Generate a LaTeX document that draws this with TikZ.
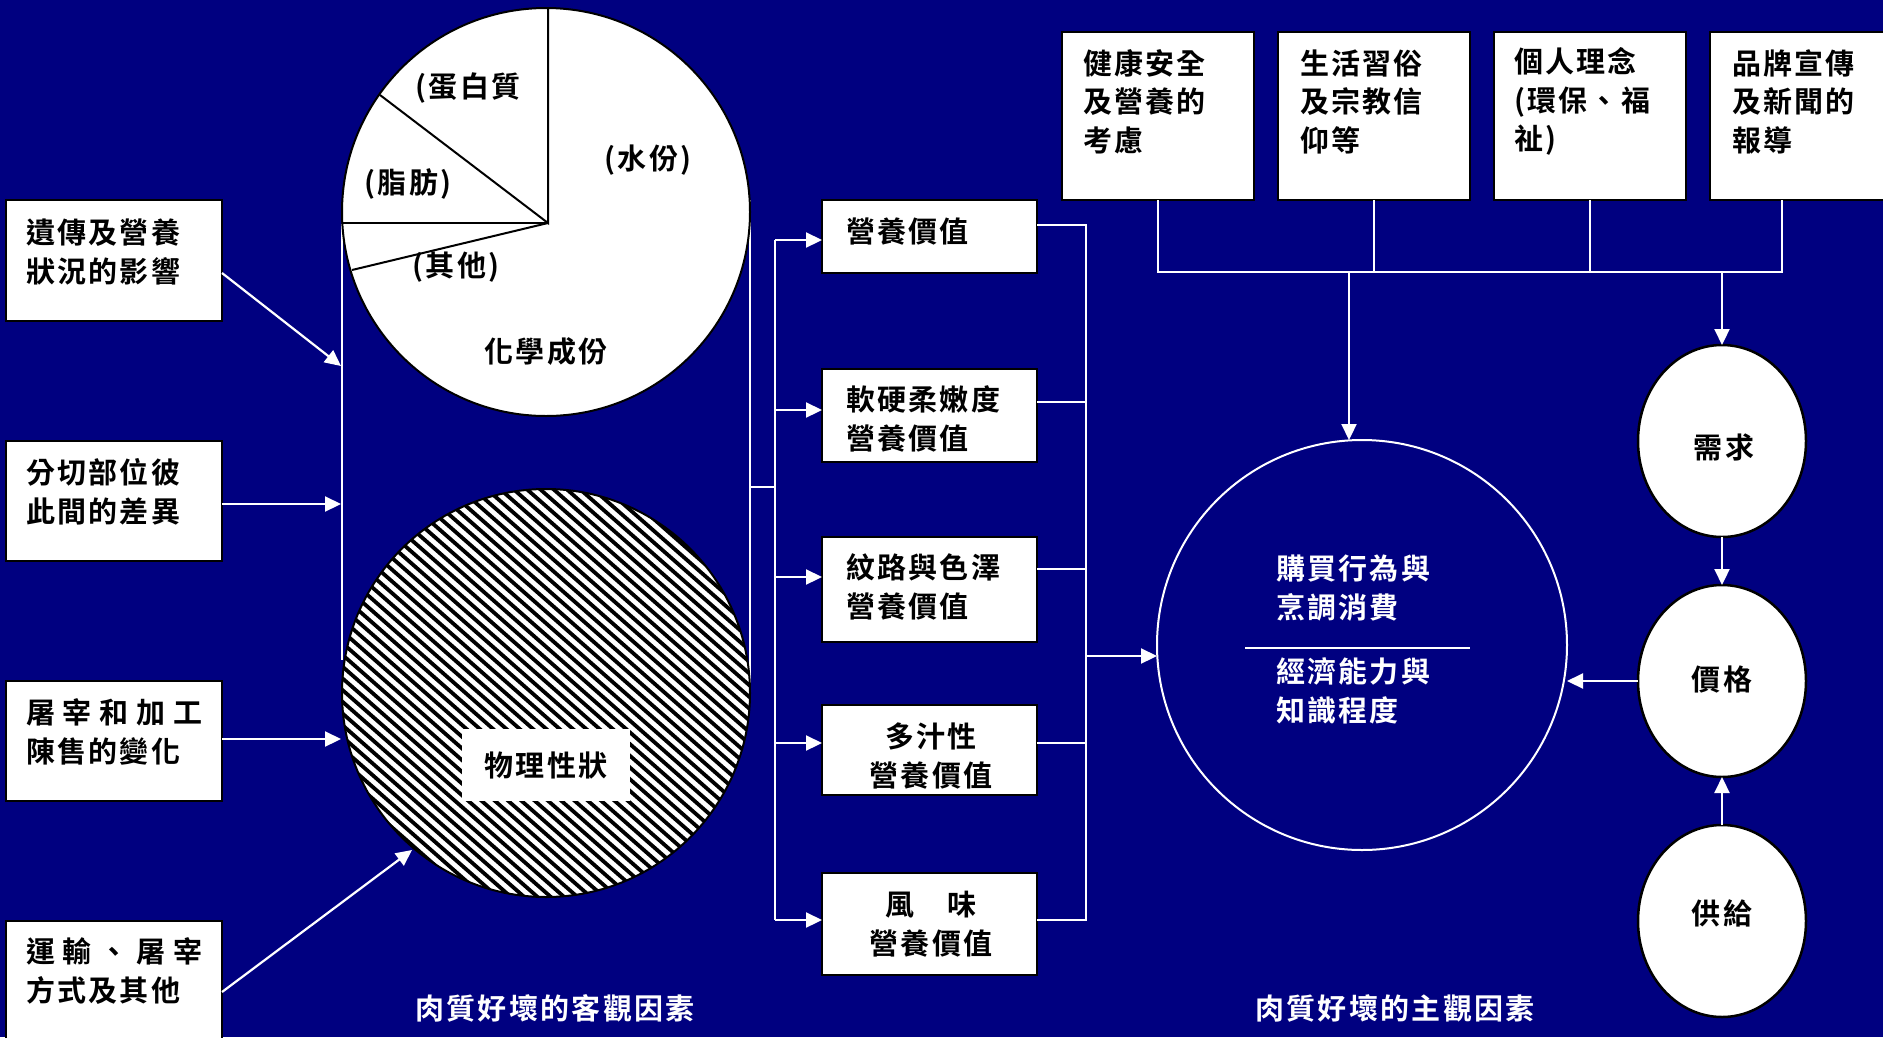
\documentclass[tikz,border=0pt]{standalone}
\usepackage{fontspec}
\newfontfamily\cjk{Noto Sans CJK TC Bold}[LetterSpace=8]
\usetikzlibrary{arrows.meta,shapes.geometric}
\definecolor{bgnavy}{RGB}{0,0,128}
\newcommand\wsp{\hspace{8pt}}
\begin{document}
\begin{tikzpicture}[x=1pt,y=-1pt,
  every node/.style={inner sep=0pt, outer sep=0pt},
  box/.style={draw=black, line width=2.5pt, fill=white, rectangle},
  txt/.style={font=\cjk\fontsize{29}{38.5}\selectfont, align=left, anchor=west, text=black},
  ctxt/.style={txt, align=center, anchor=center},
  wtxt/.style={txt, text=white},
  conn/.style={draw=white, line width=2.2pt},
  arr/.style={conn, -{Triangle[length=16pt,width=15pt]}},
  oval/.style={ellipse, draw=black, line width=2.5pt, fill=white, minimum width=168pt, minimum height=192pt},
  blk/.style={draw=black, line width=2pt}
]
\useasboundingbox (0,0) rectangle (1883,1037);
\fill[bgnavy] (0,0) rectangle (1883,1037);

% ---------- vertical connector lines around the two circles
\coordinate (vl1) at (342,224);
\coordinate (vl2) at (342,660);
\coordinate (vr1) at (750,200);
\coordinate (vr2) at (750,688);
\draw[conn] (vl1) -- (vl2);
\draw[conn] (vr1) -- (vr2);

% ---------- pie chart (chemical composition)
\fill[white] (546,212) circle[radius=204pt];
\draw[blk] (546,212) circle[radius=204pt];
\coordinate (pc) at (548,223);
\draw[blk] (548,9) -- (pc) -- (380,95);
\draw[blk] (pc) -- (343,223);
\draw[blk] (pc) -- (352,270);
\node[ctxt] (p1) at (468,88) {(蛋白質};
\node[ctxt] (p2) at (648,160) {(水份)};
\node[ctxt] (p3) at (408,184) {(脂肪)};
\node[ctxt] (p4) at (456,267) {(其他)};
\node[ctxt] (p5) at (546,352) {化學成份};

% ---------- hatched circle (physical properties)
\begin{scope}
  \clip (546,693) circle[radius=204pt];
  \fill[white] (342,489) rectangle (750,897);
  \foreach \i in {0,...,60}
    \draw[black, line width=3.8pt] ({-160+\i*13.3},470) -- ++(520,458);
\end{scope}
\draw[blk] (546,693) circle[radius=204pt];
\node[fill=white, minimum width=168pt, minimum height=72pt, font=\cjk\fontsize{29}{38.5}\selectfont] (PH) at (546,765) {物理性狀};

% ---------- left boxes
\node[box, minimum width=216pt, minimum height=121pt] (L1) at (114,260.5) {};
\node[box, minimum width=216pt, minimum height=120pt] (L2) at (114,501) {};
\node[box, minimum width=216pt, minimum height=120pt] (L3) at (114,741) {};
\node[box, minimum width=216pt, minimum height=129pt] (L4) at (114,985.5) {};
\node[txt] (L1t) at (26,252) {遺傳及營養\\狀況的影響};
\node[txt] (L2t) at (26,492) {分切部位彼\\此間的差異};
\node[txt] (L3t) at (26,732) {屠\wsp 宰\wsp 和\wsp 加\wsp 工\\陳售的變化};
\node[txt] (L4t) at (26,971) {運\wsp 輸\wsp 、\wsp 屠\wsp 宰\\方式及其他};

\coordinate (j1) at (341,366);
\coordinate (jx) at (341,0);
\coordinate (j4) at (412,850);
\draw[arr] ([yshift=-12.5pt]L1.east) -- (j1);
\draw[arr] ([yshift=-3pt]L2.east) -- ([yshift=-3pt]L2.east -| jx);
\draw[arr] ([yshift=2pt]L3.east) -- ([yshift=2pt]L3.east -| jx);
\draw[arr] ([yshift=-6.5pt]L4.east) -- (j4);

% ---------- middle boxes
\node[box, minimum width=215pt, minimum height=73pt]  (M1) at (929.5,236.5) {};
\node[box, minimum width=215pt, minimum height=93pt]  (M2) at (929.5,415.5) {};
\node[box, minimum width=215pt, minimum height=105pt] (M3) at (929.5,589.5) {};
\node[box, minimum width=215pt, minimum height=90pt]  (M4) at (929.5,750) {};
\node[box, minimum width=215pt, minimum height=102pt] (M5) at (929.5,924) {};
\node[txt] (M1t) at (846,232) {營養價值};
\node[txt] (M2t) at (846,419) {軟硬柔嫩度\\營養價值};
\node[txt] (M3t) at (846,587) {紋路與色澤\\營養價值};
\node[ctxt] (M4t) at (931,756) {多汁性\\營養價值};
\node[ctxt] (M5t) at (931,924) {風　味\\營養價值};

% left bus into middle boxes
\coordinate (t0) at (750,487);
\coordinate (t1) at (775,487);
\coordinate (a1) at (775,240);
\coordinate (a2) at (775,410);
\coordinate (a3) at (775,577);
\coordinate (a4) at (775,743);
\coordinate (a5) at (775,920);
\draw[conn] (t0) -- (t1);
\draw[conn] (a1) -- (a5);
\draw[arr] (a1) -- (a1 -| M1.west);
\draw[arr] (a2) -- (a2 -| M2.west);
\draw[arr] (a3) -- (a3 -| M3.west);
\draw[arr] (a4) -- (a4 -| M4.west);
\draw[arr] (a5) -- (a5 -| M5.west);

% right bus out of middle boxes
\coordinate (b1) at (1086,225);
\coordinate (b2) at (1086,402);
\coordinate (b3) at (1086,569);
\coordinate (b4) at (1086,743);
\coordinate (b5) at (1086,920);
\coordinate (bc) at (1086,656);
\draw[conn] (b1 -| M1.east) -- (b1) -- (b5) -- (b5 -| M5.east);
\draw[conn] (b2 -| M2.east) -- (b2);
\draw[conn] (b3 -| M3.east) -- (b3);
\draw[conn] (b4 -| M4.east) -- (b4);

% ---------- big consumer circle
\node[circle, draw=white, line width=2pt, minimum size=410pt] (C) at (1362,645) {};
\draw[arr] (bc) -- (bc -| C.west);
\node[wtxt] (C1) at (1276,588) {購買行為與\\烹調消費};
\coordinate (cl1) at (1245,648);
\coordinate (cl2) at (1470,648);
\draw[conn, line width=2pt] (cl1) -- (cl2);
\node[wtxt] (C2) at (1276,691) {經濟能力與\\知識程度};

% ---------- top boxes
\node[box, minimum width=192pt, minimum height=168pt] (T1) at (1158,116) {};
\node[box, minimum width=192pt, minimum height=168pt] (T2) at (1374,116) {};
\node[box, minimum width=192pt, minimum height=168pt] (T3) at (1590,116) {};
\node[box, minimum width=192pt, minimum height=168pt] (T4) at (1806,116) {};
\node[txt] (T1t) at (1083,101.5) {健康安全\\及營養的\\考慮};
\node[txt] (T2t) at (1300,101.5) {生活習俗\\及宗教信\\仰等};
\node[txt] (T3t) at (1514,101.5) {個人理念\\(環保、福\\祉)};
\node[txt] (T4t) at (1732,101.5) {品牌宣傳\\及新聞的\\報導};

\coordinate (hL) at (1158,272);
\coordinate (hR) at (1782,272);
\coordinate (hC) at (1349,272);
\coordinate (hD) at (1722,272);
\draw[conn] (T1.south) -- (T1.south |- hL) -- (hR) -- ([xshift=-24pt]T4.south);
\draw[conn] (T2.south) -- (T2.south |- hL);
\draw[conn] (T3.south) -- (T3.south |- hL);
\draw[arr] (hC) -- (hC |- C.north);

% ---------- demand / price / supply
\node[oval] (D) at (1722,441) {};
\node[oval] (P) at (1722,681) {};
\node[oval] (S) at (1722,921) {};
\node[ctxt] (Dt) at (1724,447) {需求};
\node[ctxt] (Pt) at (1722,679) {價格};
\node[ctxt] (St) at (1722,913) {供給};
\draw[arr] (hD) -- (D.north);
\draw[arr] (D.south) -- (P.north);
\draw[arr] (S.north) -- (P.south);
\draw[arr] (P.west) -- (P.west -| C.east);

% ---------- captions
\node[ctxt, text=white] (cap1) at (555,1008) {肉質好壞的客觀因素};
\node[ctxt, text=white] (cap2) at (1395,1008) {肉質好壞的主觀因素};
\end{tikzpicture}
\end{document}
